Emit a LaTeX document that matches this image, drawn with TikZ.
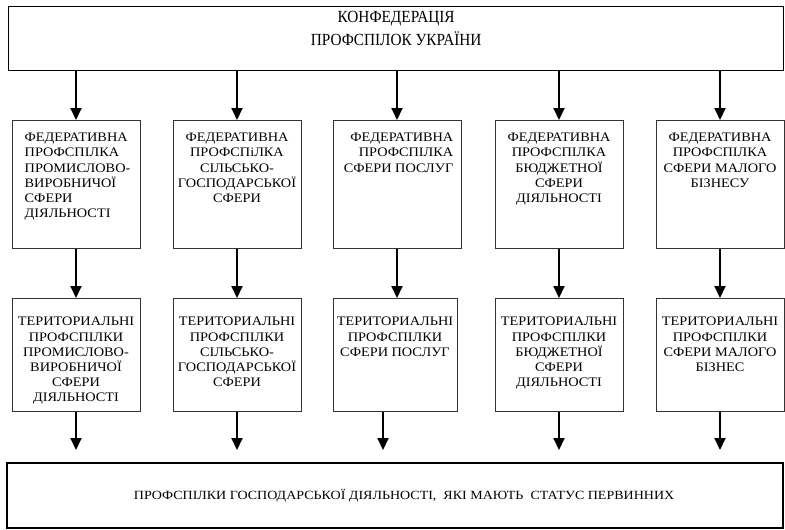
\documentclass[tikz,border=0pt]{standalone}
\usepackage{fontspec}
\setmainfont{Liberation Serif}
\newfontfamily\narrowserif[FakeStretch=0.9]{Liberation Serif}
\newfontfamily\wideserif[FakeStretch=1.1]{Liberation Serif}
\newfontfamily\bottomserif[FakeStretch=1.12]{Liberation Serif}
\usetikzlibrary{arrows.meta,positioning}
\tikzset{
    % Frame of the confederation and of the primary unions
    mainbox/.style={
        rectangle, draw=black, line width=1.3pt,
        anchor=north west, inner sep=0pt
    },
    % Federation boxes
    unionbox/.style={
        rectangle, draw=black!80, line width=1pt,
        minimum width=128pt, minimum height=128pt,
        anchor=north, inner sep=0pt
    },
    % Territorial boxes
    terrbox/.style={
        unionbox, minimum height=113pt
    },
    % Text inside the boxes
    boxtext/.style={
        anchor=north, inner sep=0pt, align=center,
        font=\wideserif\fontsize{13}{15.2}\selectfont
    },
    % Arrows going down
    downarrow/.style={
        -{Triangle[length=12pt,width=11pt]}, line width=2pt
    }
}
\begin{document}
\begin{tikzpicture}[x=1pt, y=-1pt]
\useasboundingbox (0,0) rectangle (785,530);

% Confederation
\node[mainbox, minimum width=775pt, minimum height=64pt] (kpu) at (8,6) {};
\node[anchor=north, inner sep=0pt, align=center,
      font=\narrowserif\fontsize{17}{23}\selectfont] (kputxt)
      at ([yshift=-5pt]kpu.north)
      {КОНФЕДЕРАЦІЯ\\ПРОФСПІЛОК УКРАЇНИ};

% Federative unions
\node[unionbox] (f1) at (76,120) {};
\node[unionbox] (f2) at (237,120) {};
\node[unionbox] (f3) at (397,120) {};
\node[unionbox] (f4) at (559,120) {};
\node[unionbox] (f5) at (720,120) {};

\node[boxtext, anchor=north west, align=left] (f1txt) at ([xshift=13pt,yshift=-13pt]f1.north west)
    {ФЕДЕРАТИВНА\\ПРОФСПІЛКА\\ПРОМИСЛОВО-\\ВИРОБНИЧОЇ\\СФЕРИ\\ДІЯЛЬНОСТІ};
\node[boxtext] (f2txt) at ([yshift=-13pt]f2.north)
    {ФЕДЕРАТИВНА\\ПРОФСПіЛКА\\СІЛЬСЬКО-\\ГОСПОДАРСЬКОЇ\\СФЕРИ};
\node[boxtext, anchor=north east, align=right] (f3txt) at ([xshift=-8pt,yshift=-13pt]f3.north east)
    {ФЕДЕРАТИВНА\\ПРОФСПІЛКА\\СФЕРИ ПОСЛУГ};
\node[boxtext] (f4txt) at ([yshift=-13pt]f4.north)
    {ФЕДЕРАТИВНА\\ПРОФСПІЛКА\\БЮДЖЕТНОЇ\\СФЕРИ\\ДІЯЛЬНОСТІ};
\node[boxtext] (f5txt) at ([yshift=-13pt]f5.north)
    {ФЕДЕРАТИВНА\\ПРОФСПІЛКА\\СФЕРИ МАЛОГО\\БІЗНЕСУ};

% Territorial unions
\node[terrbox] (t1) at (76,298) {};
\node[terrbox] (t2) at (237,298) {};
\node[terrbox, minimum width=124pt] (t3) at (395,298) {};
\node[terrbox] (t4) at (559,298) {};
\node[terrbox] (t5) at (720,298) {};

\node[boxtext] (t1txt) at ([yshift=-19pt]t1.north)
    {ТЕРИТОРИАЛЬНІ\\ПРОФСПІЛКИ\\ПРОМИСЛОВО-\\ВИРОБНИЧОЇ\\СФЕРИ\\ДІЯЛЬНОСТІ};
\node[boxtext] (t2txt) at ([yshift=-19pt]t2.north)
    {ТЕРИТОРИАЛЬНІ\\ПРОФСПІЛКИ\\СІЛЬСЬКО-\\ГОСПОДАРСЬКОЇ\\СФЕРИ};
\node[boxtext] (t3txt) at ([yshift=-19pt]t3.north)
    {ТЕРИТОРИАЛЬНІ\\ПРОФСПІЛКИ\\СФЕРИ ПОСЛУГ};
\node[boxtext] (t4txt) at ([yshift=-19pt]t4.north)
    {ТЕРИТОРИАЛЬНІ\\ПРОФСПІЛКИ\\БЮДЖЕТНОЇ\\СФЕРИ\\ДІЯЛЬНОСТІ};
\node[boxtext] (t5txt) at ([yshift=-19pt]t5.north)
    {ТЕРИТОРИАЛЬНІ\\ПРОФСПІЛКИ\\СФЕРИ МАЛОГО\\БІЗНЕС};

% Primary unions
\node[mainbox, line width=2.2pt, minimum width=776pt, minimum height=65pt] (prim) at (6,462) {};
\node[inner sep=0pt, font=\bottomserif\fontsize{12.5}{14}\selectfont] (primtxt) at ([xshift=9pt]prim.center)
    {ПРОФСПІЛКИ ГОСПОДАРСЬКОЇ ДІЯЛЬНОСТІ, \ ЯКІ МАЮТЬ \ СТАТУС ПЕРВИННИХ};

% Arrows
\foreach \i in {1,...,5} {
    \draw[downarrow] (kpu.south -| f\i.north) -- (f\i.north);
}
\foreach \i in {1,2,4,5} {
    \draw[downarrow] (f\i.south) -- (t\i.north);
}
\draw[downarrow] (f3.south) -- (f3.south |- t3.north);

\coordinate (arrowend) at (0,450);
\coordinate (t3out) at ([xshift=-12pt]t3.south);
\foreach \i in {1,2,4,5} {
    \draw[downarrow] (t\i.south) -- (t\i.south |- arrowend);
}
\draw[downarrow] (t3out) -- (t3out |- arrowend);

\end{tikzpicture}
\end{document}
